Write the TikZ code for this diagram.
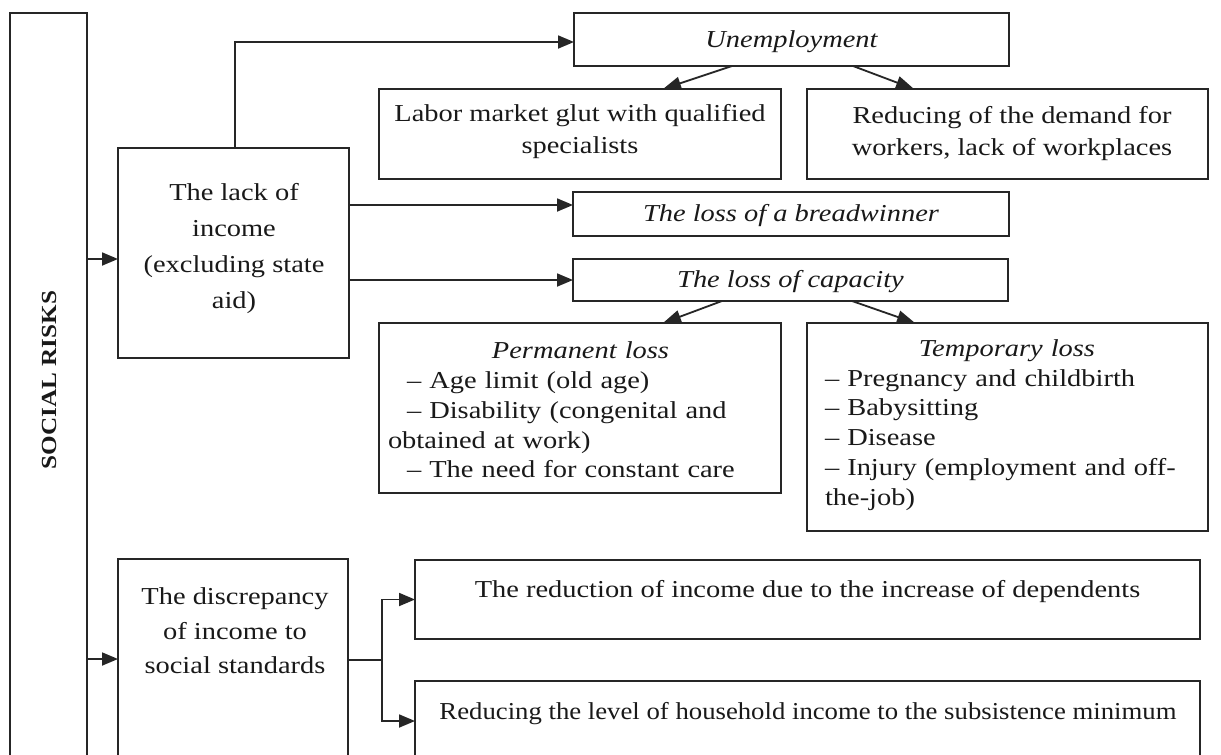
\documentclass[tikz,border=0pt]{standalone}
\usepackage{fontspec}
\setmainfont{Liberation Serif}[FakeStretch=1.17]
\usepackage{graphicx}
\usetikzlibrary{arrows.meta,calc}
\setlength{\parindent}{0pt}
\begin{document}
\begin{tikzpicture}[x=1pt,y=-1pt,
  box/.style={draw=black!85, line width=1.8pt, inner sep=0pt, outer sep=0pt, anchor=north west},
  txt/.style={inner sep=0pt, align=center, text=black!90, font=\fontsize{24.3}{32}\selectfont},
  ln/.style={draw=black!85, line width=1.8pt},
  arr/.style={ln, -{Triangle[length=16pt,width=13pt]}},
  sarr/.style={ln, -{Triangle[length=18pt,width=13pt]}}]
\useasboundingbox (0,0) rectangle (1221,755);
\fill[white] (0,0) rectangle (1221,755);
\clip (0,0) rectangle (1221,755);

% boxes
\node[box, minimum width=77pt, minimum height=800pt] (social) at (10,13) {};
\node[box, minimum width=231pt, minimum height=210pt] (lack) at (118,148) {};
\node[box, minimum width=230pt, minimum height=300pt] (disc) at (118,559) {};
\node[box, minimum width=435pt, minimum height=53pt] (unemp) at (574,13) {};
\node[box, minimum width=402pt, minimum height=90pt] (labor) at (379,89) {};
\node[box, minimum width=401pt, minimum height=90pt] (reduce) at (807,89) {};
\node[box, minimum width=436pt, minimum height=44pt] (bread) at (573,192) {};
\node[box, minimum width=435pt, minimum height=42pt] (cap) at (573,259) {};
\node[box, minimum width=402pt, minimum height=170pt] (perm) at (379,323) {};
\node[box, minimum width=401pt, minimum height=208pt] (temp) at (807,323) {};
\node[box, minimum width=785pt, minimum height=79pt] (red) at (415,560) {};
\node[box, minimum width=785pt, minimum height=80pt] (lvl) at (415,681) {};

% texts
\node[txt, rotate=90, font=\bfseries\fontsize{21.5}{26}\selectfont] (sociallbl) at (49,380) {SOCIAL RISKS};
\node[txt, font=\fontsize{24.3}{36}\selectfont] (lacklbl) at (234,249) {The lack of\\income\\(excluding state\\aid)};
\node[txt, font=\fontsize{24.3}{34.5}\selectfont] (disclbl) at (235,631) {The discrepancy\\of income to\\social standards};
\node[txt, font=\itshape\fontsize{24.3}{32}\selectfont] (unemplbl) at (791.5,42) {Unemployment};
\node[txt] (laborlbl) at (580,132) {Labor market glut with qualified\\specialists};
\node[txt] (reducelbl) at (1012,134) {Reducing of the demand for\\workers, lack of workplaces};
\node[txt, font=\itshape\fontsize{24.3}{32}\selectfont] (breadlbl) at (791,216) {The loss of a breadwinner};
\node[txt, font=\itshape\fontsize{24.3}{32}\selectfont] (caplbl) at (790.5,282) {The loss of capacity};
\node[txt, align=left, text width=385pt, font=\fontsize{24.3}{29.8}\selectfont] (permlbl) at (580.5,410)
  {{\centering\itshape Permanent loss\par}
   \hspace*{19pt}– Age limit (old age)\\
   \hspace*{19pt}– Disability (congenital and\\
   obtained at work)\\
   \hspace*{19pt}– The need for constant care};
\node[txt, align=left, text width=364pt, font=\fontsize{24.3}{29.8}\selectfont] (templbl) at (1007,425)
  {{\centering\itshape Temporary loss\par}
   – Pregnancy and childbirth\\
   – Babysitting\\
   – Disease\\
   – Injury (employment and off-\\
   the-job)};
\node[txt] (redlbl) at (807.5,592) {The reduction of income due to the increase of dependents};
\node[txt] (lvllbl) at (808,714) {\scalebox{0.94}[1]{Reducing the level of household income to the subsistence minimum}};

% connectors
\coordinate (s1) at ($(lack.west)+(0,6)$);
\draw[arr] (social.east |- s1) -- (s1);
\coordinate (s2) at ($(disc.north west)+(0,100)$);
\draw[arr] (social.east |- s2) -- (s2);
\coordinate (u1) at ($(unemp.west)+(0,2.5)$);
\coordinate (l1) at ($(lack.north)+(1.5,0)$);
\draw[arr] (l1) -- (l1 |- u1) -- (u1);
\coordinate (b1) at ($(bread.west)+(0,-9)$);
\draw[arr] (lack.east |- b1) -- (b1);
\draw[arr] (lack.east |- cap.west) -- (cap.west);
\draw[sarr] ($(unemp.south)+(-59.5,0)$) -- ($(labor.north)+(83,0)$);
\draw[sarr] ($(unemp.south)+(61.5,0)$) -- ($(reduce.north)+(-93.5,0)$);
\draw[sarr] ($(cap.south)+(-68.5,0)$) -- ($(perm.north)+(83,0)$);
\draw[sarr] ($(cap.south)+(61.5,0)$) -- ($(temp.north)+(-92.5,0)$);
\coordinate (d1) at ($(disc.north east)+(0,101)$);
\coordinate (br) at ($(d1)+(34,0)$);
\draw[ln] (d1) -- (br);
\draw[arr] (br) |- (red.west);
\draw[arr] (br) |- (lvl.west);
\end{tikzpicture}
\end{document}
